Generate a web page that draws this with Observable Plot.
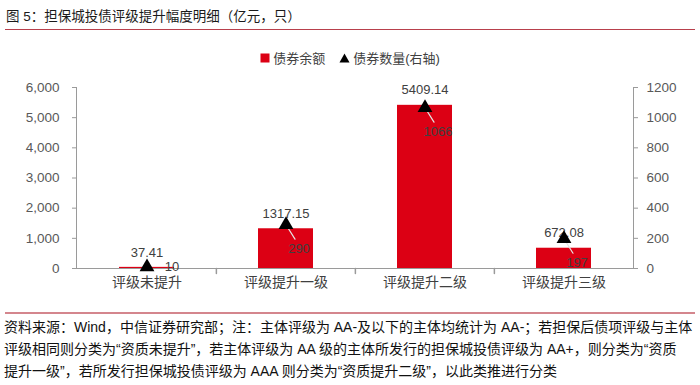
<!DOCTYPE html>
<html><head><meta charset="utf-8">
<script src="https://cdn.jsdelivr.net/npm/d3@7"></script>
<script src="https://cdn.jsdelivr.net/npm/@observablehq/plot@0.6"></script>
<style>
body{margin:0;width:700px;height:385px;background:#fff;position:relative;overflow:hidden;font-family:"Liberation Sans","Noto Sans CJK SC",sans-serif;}
#title{position:absolute;left:6px;top:5px;font-size:13.5px;color:#1a1a1a;font-family:"Liberation Sans","Noto Sans CJK SC";white-space:nowrap;}
#tline{position:absolute;left:5px;right:5px;top:29px;height:0;border-top:1.5px solid #b8404c;}
#legend{position:absolute;top:48px;left:0;width:700px;display:flex;justify-content:center;gap:14px;font-size:13px;color:#404040;align-items:center;}
#legend span.item{display:flex;align-items:center;gap:3px;}
#chart{position:absolute;top:72px;left:0;}
#fline{position:absolute;left:5px;right:5px;top:312px;border-top:2px solid #d4868d;}
#foot{position:absolute;left:4px;top:316px;font-size:14px;line-height:22px;color:#111;white-space:nowrap;}
</style>
</head><body>
<div id="title">图 5：担保城投债评级提升幅度明细（亿元，只）</div>
<div id="tline"></div>
<div id="legend"></div>
<div id="chart"></div>
<div id="fline"></div>
<div id="foot"></div>
<script>
const categories = ["评级未提升", "评级提升一级", "评级提升二级", "评级提升三级"];
const balance = [37.41, 1317.15, 5409.14, 672.08];
const counts = [10, 290, 1066, 197];
const leftTicks = [0, 1000, 2000, 3000, 4000, 5000, 6000];
const rightTicks = [0, 200, 400, 600, 800, 1000, 1200];
const seriesNames = ["债券余额", "债券数量(右轴)"];
const footLines = [
  "资料来源：Wind，中信证券研究部；注：主体评级为 AA-及以下的主体均统计为 AA-；若担保后债项评级与主体",
  "评级相同则分类为“资质未提升”，若主体评级为 AA 级的主体所发行的担保城投债评级为 AA+，则分类为“资质",
  "提升一级”，若所发行担保城投债评级为 AAA 则分类为“资质提升二级”，以此类推进行分类"
];

const red = "#dc0014";
const ratio = leftTicks[leftTicks.length - 1] / rightTicks[rightTicks.length - 1];
const data = categories.map((c, i) => ({cat: c, bal: balance[i], cnt: counts[i], cntY: counts[i] * ratio}));

// legend
document.getElementById("legend").innerHTML =
  `<span class="item"><svg width="10" height="10"><rect x="0.5" y="0.5" width="9" height="9" fill="${red}"/></svg>${seriesNames[0]}</span>` +
  `<span class="item"><svg width="11" height="10"><path d="M5.5 0.5 L10.5 9.5 L0.5 9.5 Z" fill="#000"/></svg>${seriesNames[1]}</span>`;
document.getElementById("foot").innerHTML = footLines.map(l => `<div>${l}</div>`).join("");

const W = 700, H = 230, ML = 76, MR = 67, MT = 15, MB = 34;
const step = (W - ML - MR) / categories.length;
const lineShape = {draw(ctx, l) { ctx.moveTo(0, 0); ctx.lineTo(0, -l); }};
const axisColor = "#9a9a9a";
const textColor = "#595959";

const chart = Plot.plot({
  width: W, height: H, marginLeft: ML, marginRight: MR, marginTop: MT, marginBottom: MB,
  style: {fontFamily: "'Liberation Sans','Noto Sans CJK SC',sans-serif", fontSize: "13px", background: "#fff"},
  x: {domain: categories, padding: 0, axis: null, label: null},
  y: {domain: [0, leftTicks[leftTicks.length - 1]], axis: null, label: null},
  marks: [
    Plot.barY(data, {x: "cat", y: "bal", fill: red, insetLeft: 42, insetRight: 42}),
    Plot.ruleY([0], {stroke: axisColor}),
    Plot.frame({anchor: "left", stroke: axisColor}),
    Plot.frame({anchor: "right", stroke: axisColor}),
    Plot.axisY(leftTicks, {anchor: "left", label: null, tickFormat: d3.format(","), tickSize: 4, tickPadding: 13, stroke: axisColor, fill: textColor, fontSize: 13.5}),
    Plot.axisY(rightTicks.map(d => d * ratio), {anchor: "right", label: null, tickFormat: d => String(Math.round(d / ratio)), tickSize: 4, tickPadding: 9, stroke: axisColor, fill: textColor, fontSize: 13.5}),
    Plot.axisX({label: null, tickSize: 0, tickPadding: 9, fill: "#404040", fontSize: 14}),
    Plot.vector(categories.slice(1), {x: d => d, y: () => 0, dx: -step / 2, anchor: "start", rotate: 180, length: 5, shape: lineShape, stroke: axisColor}),
    Plot.text(data, {x: "cat", y: "bal", text: d => d.bal.toFixed(2), dy: -15, fill: "#404040", fontSize: 13}),
    Plot.vector(data.filter(d => d.cntY >= 500), {x: "cat", y: "cntY", anchor: "start", rotate: 148, length: 17, shape: lineShape, stroke: "#e4e4e4", strokeWidth: 1.2}),
    Plot.dot(data, {x: "cat", y: "cntY", symbol: "triangle", r: 5.5, fill: "#000"}),
    Plot.text(data.filter(d => d.cntY >= 500), {x: "cat", y: "cntY", text: d => String(d.cnt), dx: 13, dy: 24, fill: "#404040", fontSize: 13}),
    Plot.text(data.filter(d => d.cntY < 500), {x: "cat", y: "cntY", text: d => String(d.cnt), dx: 25, dy: 0, fill: "#404040", fontSize: 13})
  ]
});
document.getElementById("chart").appendChild(chart);
</script>
</body></html>
